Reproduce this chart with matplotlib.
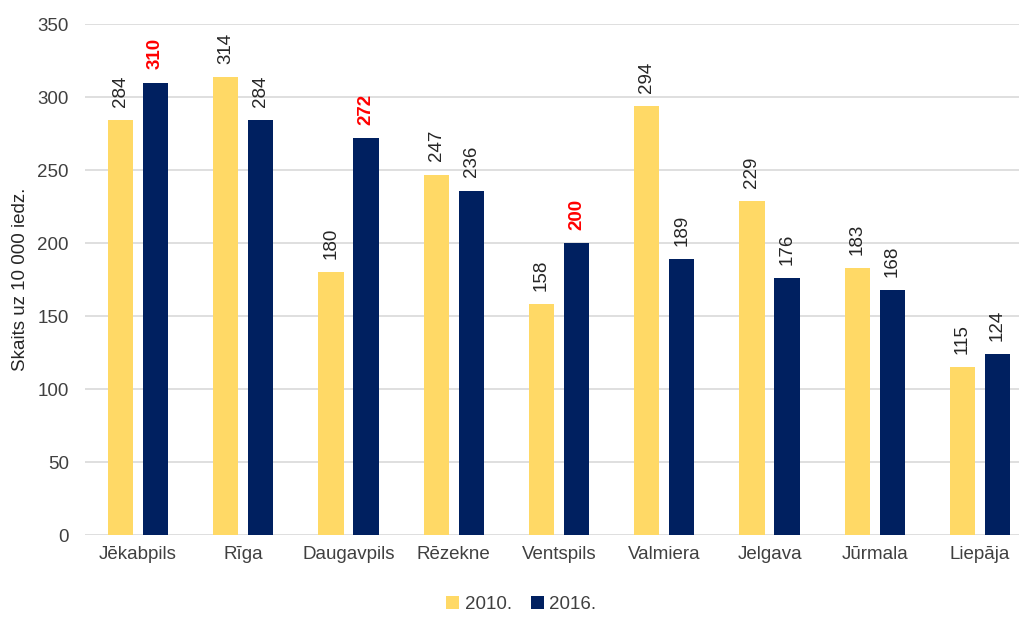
import numpy as np
import matplotlib
matplotlib.use("Agg")
import matplotlib.pyplot as plt
from matplotlib import font_manager

names = {f.name for f in font_manager.fontManager.ttflist}
base_font = "Liberation Sans Narrow" if "Liberation Sans Narrow" in names else "Liberation Sans"
plt.rcParams["font.family"] = [base_font, "DejaVu Sans"]

cities = ["Jēkabpils", "Rīga", "Daugavpils", "Rēzekne", "Ventspils",
          "Valmiera", "Jelgava", "Jūrmala", "Liepāja"]
vals_2010 = [284, 314, 180, 247, 158, 294, 229, 183, 115]
vals_2016 = [310, 284, 272, 236, 200, 189, 176, 168, 124]
highlight_2016 = [True, False, True, False, True, False, False, False, False]

yellow = "#FFD966"
navy = "#002060"

fig = plt.figure(figsize=(10.2, 6.18), dpi=100)
# plot area runs a bit past the right edge of the picture, as in the original
ax = fig.add_axes([0.0837, 0.134, 0.9287, 0.827])

x = np.arange(len(cities))
w = 0.24
off = 0.167
ax.bar(x - off, vals_2010, w, color=yellow, label="2010.", zorder=3)
ax.bar(x + off, vals_2016, w, color=navy, label="2016.", zorder=3)

for xi, v in zip(x, vals_2010):
    ax.text(xi - off, v + 9, str(v), rotation=90, ha="center", va="bottom",
            fontsize=13.5, color="#262626")
for xi, v, hl in zip(x, vals_2016, highlight_2016):
    ax.text(xi + off, v + 9, str(v), rotation=90, ha="center", va="bottom",
            fontsize=13.5, color="red" if hl else "#262626",
            fontweight="bold" if hl else "normal")

ax.set_ylim(0, 350)
ax.set_yticks(range(0, 351, 50))
ax.set_xlim(-0.5, len(cities) - 0.5)
ax.set_xticks(x)
ax.set_xticklabels(cities)
ax.tick_params(length=0, labelsize=13.5, colors="#404040")
ax.tick_params(axis="x", pad=8)
ax.tick_params(axis="y", pad=12)
ax.yaxis.grid(True, color="#d9d9d9", linewidth=1.2, zorder=0)
for s in ax.spines.values():
    s.set_visible(False)
ax.set_ylabel("Skaits uz 10 000 iedz.", fontsize=13.5, color="#262626", labelpad=6)

fig.legend(loc="center", bbox_to_anchor=(0.511, 0.022), ncol=2, frameon=False,
           fontsize=13.5, handlelength=0.7, handleheight=0.7, handletextpad=0.3,
           columnspacing=1.0, labelcolor="#404040")

fig.savefig("out.png", dpi=100)
